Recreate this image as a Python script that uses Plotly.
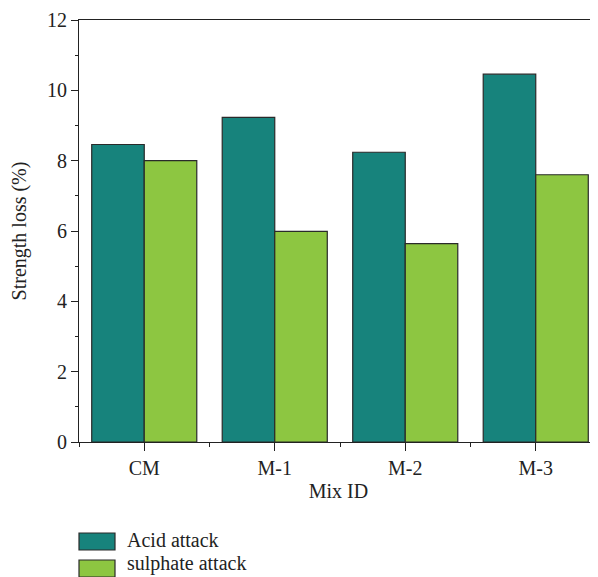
import plotly.graph_objects as go

categories = ["CM", "M-1", "M-2", "M-3"]
acid_attack = [8.46, 9.23, 8.24, 10.46]
sulphate_attack = [8.0, 5.99, 5.64, 7.6]
series_names = ["Acid attack", "sulphate attack"]
colors = ["#17837C", "#8DC641"]

FONT = "Liberation Serif"
FS = 20
fig = go.Figure()
for name, vals, col in zip(series_names, [acid_attack, sulphate_attack], colors):
    fig.add_trace(go.Bar(x=categories, y=vals, name=name, marker_color=col,
                         marker_line=dict(color="#2a2a2a", width=1.2), showlegend=False))

# invisible trace on overlaying numeric axis for boundary ticks
fig.add_trace(go.Scatter(x=[-0.5], y=[0], xaxis="x2", mode="markers",
                         marker=dict(opacity=0), showlegend=False, hoverinfo="skip"))

xr = [-0.5, 3.477]
# page body has an 8px margin, so the figure is sized/offset to compensate
fig.update_layout(
    width=590, height=569,
    margin=dict(l=71, r=0, t=12, b=135, autoexpand=False),
    paper_bgcolor="white", plot_bgcolor="white",
    font=dict(family=FONT, size=FS, color="#222"),
    barmode="group", bargap=0.195, bargroupgap=0,
    xaxis=dict(range=xr, showline=True, linecolor="#222", linewidth=1.2, mirror=True,
               ticks="outside", ticklen=8, tickcolor="#222", tickwidth=1.2,
               showgrid=False, zeroline=False, automargin=False,
               title=dict(text="Mix ID", font=dict(size=FS), standoff=5)),
    xaxis2=dict(range=xr, overlaying="x", anchor="y", side="bottom",
                tickmode="array", tickvals=[-0.5, 0.5, 1.5, 2.5],
                ticks="outside", ticklen=4, tickcolor="#222", tickwidth=1.2,
                showticklabels=False, showgrid=False, zeroline=False, showline=False,
                automargin=False),
    yaxis=dict(range=[0, 12], dtick=2, showline=True, linecolor="#222", linewidth=1.2,
               ticks="outside", ticklen=7, tickcolor="#222", tickwidth=1.2,
               minor=dict(dtick=1, ticks="outside", ticklen=3, tickcolor="#222", tickwidth=1.2, showgrid=False),
               showgrid=False, zeroline=False, automargin=False,
               title=dict(text="Strength loss (%)", font=dict(size=FS), standoff=16)),
)

# legend drawn as paper-positioned boxes + labels (page y coords converted to paper)
legend_box_y = [541.5, 568.5]
legend_text_y = [539.5, 563.5]
for name, col, yc, yt in zip(series_names, colors, legend_box_y, legend_text_y):
    y0 = 1 - (yc + 8.5 - 20) / 422
    y1 = 1 - (yc - 8.5 - 20) / 422
    fig.add_shape(type="rect", xref="paper", yref="paper",
                  x0=0, x1=36 / 519, y0=y0, y1=y1,
                  fillcolor=col, line=dict(color="#2a2a2a", width=1.2))
    fig.add_annotation(xref="paper", yref="paper", x=46 / 519, y=1 - (yt - 20) / 422,
                       text=name, showarrow=False, xanchor="left", yanchor="middle",
                       font=dict(family=FONT, size=20, color="#222"))

fig.write_html("out.html")
